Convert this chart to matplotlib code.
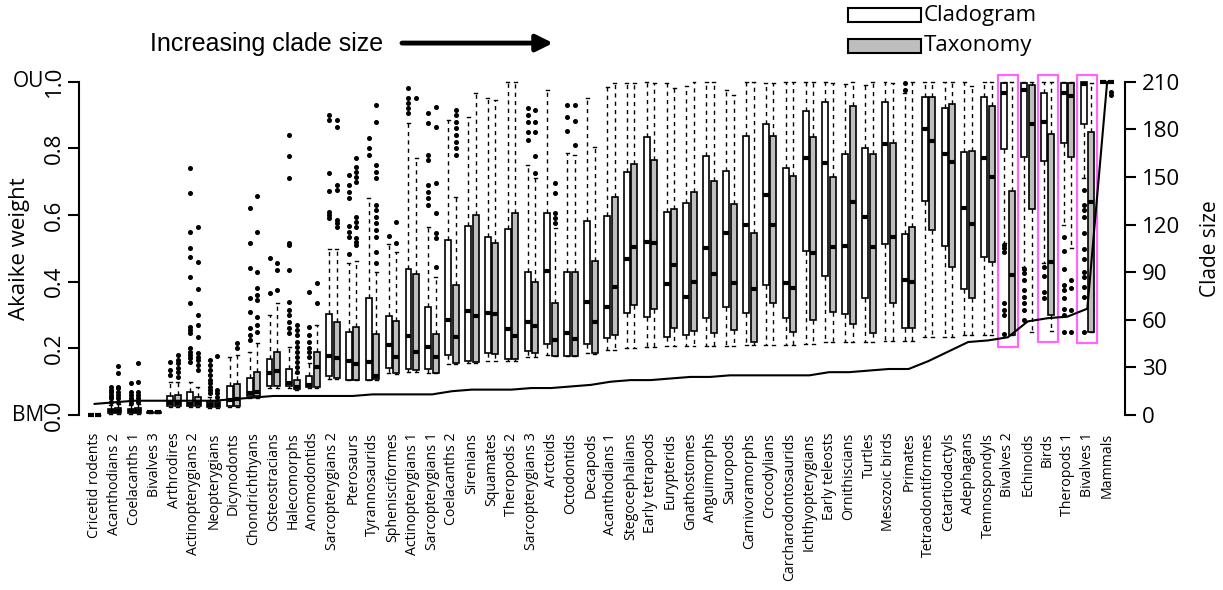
import matplotlib
matplotlib.use("Agg")
import matplotlib.pyplot as plt
from matplotlib.patches import Rectangle
from matplotlib.transforms import blended_transform_factory

# ============================================================
# CONFIG
# ============================================================

plt.rcParams["font.family"] = ["Open Sans", "DejaVu Sans"]

FIGSIZE = (12.23, 5.90)
DPI = 100

WHITE = "white"
GRAY = "#bebebe"
PINK = "#ff66ff"

# ============================================================
# DATA
# ============================================================

CLADES = [
    "Cricetid rodents", "Acanthodians 2", "Coelacanths 1", "Bivalves 3",
    "Arthrodires", "Actinopterygians 2", "Neopterygians", "Dicynodonts",
    "Chondrichthyans", "Osteostracians", "Halecomorphs", "Anomodontids",
    "Sarcopterygians 2", "Pterosaurs", "Tyrannosaurids", "Sphenisciformes",
    "Actinopterygians 1", "Sarcopterygians 1", "Coelacanths 2", "Sirenians",
    "Squamates", "Theropods 2", "Sarcopterygians 3", "Arctoids",
    "Octodontids", "Decapods", "Acanthodians 1", "Stegocephalians",
    "Early tetrapods", "Eurypterids", "Gnathostomes", "Anguimorphs",
    "Sauropods", "Carnivoramorphs", "Crocodylians", "Carcharodontosaurids",
    "Ichthyopterygians", "Early teleosts", "Ornithiscians", "Turtles",
    "Mesozoic birds", "Primates", "Tetraodontiformes", "Cetartiodactyls",
    "Adephagans", "Temnospondyls", "Bivalves 2", "Echinoids",
    "Birds", "Theropods 1", "Bivalves 1", "Mammals",
]

CLADE_SIZE = [
    7, 8, 9, 9, 9, 9, 9, 10, 11, 12,
    12, 12, 12, 12, 13, 13, 13, 13, 15, 16,
    16, 16, 17, 17, 18, 19, 21, 22, 22, 23,
    24, 24, 25, 25, 25, 25, 25, 27, 27, 28,
    29, 29, 34, 40, 46, 47, 49, 59, 61, 62,
    67, 210,
]

# Cladogram (white boxes)
CLADO_LO = [
    0, 0.004, 0.004, 0.006, 0.025, 0.025, 0.02, 0.025, 0.05, 0.082,
    0.082, 0.08, 0.107, 0.105, 0.105, 0.125, 0.13, 0.127, 0.153, 0.157,
    0.163, 0.163, 0.173, 0.18, 0.177, 0.185, 0.195, 0.2, 0.203, 0.207,
    0.207, 0.207, 0.207, 0.21, 0.21, 0.21, 0.213, 0.22, 0.22, 0.22,
    0.223, 0.223, 0.235, 0.235, 0.24, 0.24, 0.515, 0.445, 0.455, 0.57,
    0.712, 1.0,
]
CLADO_Q1 = [
    0, 0.007, 0.007, 0.007, 0.028, 0.028, 0.023, 0.028, 0.057, 0.087,
    0.087, 0.084, 0.117, 0.105, 0.105, 0.142, 0.137, 0.137, 0.18, 0.163,
    0.185, 0.167, 0.192, 0.213, 0.177, 0.213, 0.23, 0.305, 0.295, 0.235,
    0.24, 0.29, 0.323, 0.307, 0.39, 0.29, 0.492, 0.417, 0.302, 0.35,
    0.513, 0.26, 0.643, 0.507, 0.377, 0.473, 0.797, 0.773, 0.762, 0.817,
    0.873, 1.0,
]
CLADO_MED = [
    0, 0.012, 0.011, 0.008, 0.035, 0.034, 0.03, 0.045, 0.065, 0.127,
    0.095, 0.09, 0.178, 0.163, 0.158, 0.21, 0.237, 0.205, 0.285, 0.313,
    0.307, 0.257, 0.28, 0.432, 0.245, 0.34, 0.325, 0.467, 0.52, 0.393,
    0.355, 0.502, 0.547, 0.57, 0.66, 0.397, 0.77, 0.755, 0.507, 0.595,
    0.812, 0.405, 0.857, 0.782, 0.622, 0.77, 0.967, 0.975, 0.88, 0.967,
    0.993, 1.0,
]
CLADO_Q3 = [
    0, 0.018, 0.018, 0.009, 0.058, 0.07, 0.04, 0.087, 0.11, 0.168,
    0.138, 0.117, 0.302, 0.25, 0.35, 0.297, 0.437, 0.323, 0.525, 0.567,
    0.535, 0.557, 0.428, 0.607, 0.43, 0.583, 0.597, 0.73, 0.833, 0.61,
    0.637, 0.777, 0.733, 0.837, 0.873, 0.742, 0.912, 0.938, 0.783, 0.8,
    0.938, 0.542, 0.953, 0.92, 0.79, 0.955, 0.997, 0.997, 0.967, 0.997,
    1.0, 1.0,
]
CLADO_HI = [
    0, 0.03, 0.03, 0.01, 0.098, 0.1, 0.055, 0.175, 0.19, 0.3,
    0.205, 0.155, 0.498, 0.455, 0.65, 0.512, 0.875, 0.565, 0.885, 0.895,
    0.95, 1.0, 0.75, 0.975, 0.785, 0.95, 0.985, 0.995, 1.0, 0.995,
    0.987, 1.0, 0.975, 1.0, 0.995, 1.0, 1.0, 1.0, 0.993, 0.99,
    1.0, 0.965, 1.0, 1.0, 1.0, 1.0, 1.0, 1.0, 1.0, 1.0,
    1.0, 1.0,
]

# Taxonomy (gray boxes)
TAXO_LO = [
    0, 0.004, 0.004, 0.006, 0.025, 0.025, 0.02, 0.025, 0.05, 0.082,
    0.075, 0.08, 0.107, 0.105, 0.105, 0.122, 0.13, 0.125, 0.153, 0.157,
    0.163, 0.163, 0.173, 0.177, 0.177, 0.183, 0.195, 0.2, 0.203, 0.207,
    0.207, 0.207, 0.207, 0.21, 0.21, 0.21, 0.213, 0.22, 0.22, 0.22,
    0.223, 0.223, 0.235, 0.235, 0.24, 0.24, 0.24, 0.25, 0.253, 0.5,
    0.25, 1.0,
]
TAXO_Q1 = [
    0, 0.007, 0.007, 0.007, 0.028, 0.028, 0.023, 0.028, 0.058, 0.087,
    0.078, 0.085, 0.11, 0.105, 0.107, 0.127, 0.135, 0.125, 0.157, 0.16,
    0.183, 0.167, 0.185, 0.177, 0.177, 0.185, 0.24, 0.33, 0.317, 0.26,
    0.253, 0.247, 0.255, 0.22, 0.337, 0.25, 0.285, 0.308, 0.273, 0.245,
    0.335, 0.26, 0.555, 0.443, 0.35, 0.46, 0.24, 0.617, 0.3, 0.774,
    0.25, 1.0,
]
TAXO_MED = [
    0, 0.012, 0.012, 0.008, 0.035, 0.037, 0.03, 0.048, 0.07, 0.132,
    0.085, 0.143, 0.17, 0.153, 0.116, 0.175, 0.19, 0.173, 0.235, 0.297,
    0.302, 0.237, 0.268, 0.225, 0.227, 0.28, 0.383, 0.503, 0.515, 0.45,
    0.4, 0.423, 0.395, 0.378, 0.57, 0.38, 0.485, 0.505, 0.64, 0.503,
    0.535, 0.4, 0.822, 0.76, 0.573, 0.715, 0.42, 0.873, 0.458, 0.957,
    0.64, 1.0,
]
TAXO_Q3 = [
    0, 0.02, 0.02, 0.009, 0.06, 0.055, 0.038, 0.093, 0.13, 0.19,
    0.104, 0.188, 0.28, 0.265, 0.243, 0.283, 0.422, 0.243, 0.39, 0.6,
    0.517, 0.605, 0.398, 0.337, 0.428, 0.463, 0.655, 0.752, 0.765, 0.617,
    0.67, 0.703, 0.633, 0.545, 0.837, 0.717, 0.833, 0.715, 0.927, 0.783,
    0.815, 0.565, 0.953, 0.933, 0.792, 0.927, 0.673, 0.99, 0.842, 0.997,
    0.85, 1.0,
]
TAXO_HI = [
    0, 0.032, 0.032, 0.01, 0.098, 0.085, 0.045, 0.18, 0.215, 0.335,
    0.125, 0.27, 0.498, 0.463, 0.43, 0.49, 0.77, 0.413, 0.655, 0.965,
    0.945, 1.0, 0.71, 0.56, 0.78, 0.803, 0.995, 0.995, 0.995, 0.98,
    1.0, 1.0, 0.96, 1.0, 0.995, 1.0, 1.0, 0.997, 1.0, 1.0,
    0.997, 1.0, 1.0, 1.0, 0.987, 1.0, 1.0, 1.0, 1.0, 1.0,
    0.995, 1.0,
]

# outliers, keyed by clade index
CLADO_FLIERS = {
    1: [0.04, 0.05, 0.055, 0.06, 0.07, 0.075, 0.085],
    2: [0.035, 0.045, 0.05, 0.06, 0.068, 0.095],
    4: [0.12, 0.135, 0.16],
    5: [0.16, 0.17, 0.18, 0.19, 0.2, 0.245, 0.255, 0.265, 0.335, 0.415,
        0.475, 0.5, 0.55, 0.665, 0.74],
    6: [0.065, 0.075, 0.085, 0.095, 0.105, 0.12, 0.135, 0.15, 0.165],
    8: [0.225, 0.24, 0.26, 0.31, 0.35, 0.44, 0.515, 0.62],
    9: [0.365, 0.47],
    10: [0.245, 0.26, 0.28, 0.3, 0.315, 0.34, 0.435, 0.51, 0.515, 0.71,
         0.777, 0.84],
    11: [0.175, 0.19, 0.2, 0.22, 0.24, 0.265, 0.37],
    12: [0.59, 0.6, 0.61, 0.673, 0.725, 0.885, 0.9],
    13: [0.482, 0.535, 0.55, 0.567, 0.65, 0.67, 0.69, 0.72],
    14: [0.78, 0.8, 0.83],
    15: [0.537],
    16: [0.905, 0.92, 0.935, 0.95, 0.98],
    17: [0.63, 0.65, 0.67, 0.69, 0.765, 0.78, 0.875, 0.905],
    22: [0.825, 0.85, 0.88, 0.9, 0.92],
    24: [0.852, 0.895, 0.93],
    41: [0.975, 0.995],
    46: [0.243, 0.3, 0.315, 0.335, 0.49, 0.5, 0.51],
    47: [0.285, 0.315, 0.335, 0.355, 0.375, 0.405, 0.425, 0.437],
    48: [0.35, 0.37, 0.417, 0.445],
    49: [0.25, 0.3, 0.317, 0.35, 0.375, 0.39, 0.437, 0.493, 0.535],
    50: [0.25, 0.355, 0.385, 0.415, 0.43, 0.467, 0.497, 0.547, 0.595,
         0.615, 0.63, 0.675],
}
TAXO_FLIERS = {
    1: [0.04, 0.05, 0.06, 0.07, 0.08, 0.085, 0.125, 0.148],
    2: [0.04, 0.05, 0.06, 0.07, 0.1, 0.155],
    4: [0.115, 0.13, 0.14, 0.155, 0.165, 0.18],
    5: [0.135, 0.15, 0.165, 0.175, 0.185, 0.233, 0.27, 0.3, 0.377, 0.46,
        0.565],
    6: [0.055, 0.065, 0.075, 0.178],
    7: [0.2, 0.215],
    8: [0.25, 0.27, 0.295, 0.345, 0.36, 0.38, 0.43, 0.55, 0.657],
    9: [0.375, 0.435, 0.457],
    10: [0.13, 0.145, 0.16, 0.175, 0.19, 0.205, 0.22, 0.24, 0.255, 0.27],
    11: [0.337, 0.397],
    12: [0.565, 0.575, 0.585, 0.675, 0.69, 0.865, 0.885],
    13: [0.51, 0.52, 0.53, 0.565, 0.58, 0.595, 0.7, 0.715, 0.73, 0.745,
         0.77],
    14: [0.457, 0.49, 0.535, 0.555, 0.575, 0.595, 0.615, 0.63, 0.71, 0.73,
         0.75, 0.88, 0.93],
    15: [0.515, 0.58],
    16: [0.95],
    17: [0.445, 0.53, 0.547, 0.605, 0.695, 0.865, 0.925],
    18: [0.78, 0.8, 0.82, 0.84, 0.86, 0.88, 0.9, 0.915],
    22: [0.725, 0.777, 0.85, 0.88, 0.915],
    23: [0.577, 0.59, 0.605, 0.667, 0.695],
    24: [0.81, 0.882, 0.93],
    49: [0.25, 0.315, 0.38, 0.405],
    51: [0.96, 0.97],
}

# clades outlined in pink
HIGHLIGHT = ["Bivalves 2", "Birds", "Bivalves 1"]

# ============================================================
# HELPERS
# ============================================================

def make_stats(lo, q1, med, q3, hi, fliers):
    stats = []
    for i in range(len(lo)):
        stats.append({
            "whislo": lo[i], "q1": q1[i], "med": med[i],
            "q3": q3[i], "whishi": hi[i], "fliers": fliers.get(i, []),
        })
    return stats


def draw_boxes(ax, stats, positions, face):
    ax.bxp(
        stats,
        positions=positions,
        widths=0.3,
        capwidths=0.15,
        patch_artist=True,
        showfliers=True,
        boxprops=dict(facecolor=face, edgecolor="black", linewidth=1.2),
        medianprops=dict(color="black", linewidth=3, solid_capstyle="butt"),
        whiskerprops=dict(color="black", linewidth=1.0, linestyle=(0, (3, 3))),
        capprops=dict(color="black", linewidth=1.0),
        flierprops=dict(marker="o", markersize=2.6, markerfacecolor="black",
                        markeredgecolor="black", linestyle="none"),
        manage_ticks=False,
    )

# ============================================================
# FIGURE
# ============================================================

fig = plt.figure(figsize=FIGSIZE, dpi=DPI)
ax = fig.add_axes([0.0642, 0.274, 0.8557, 0.610])

idx = list(range(len(CLADES)))
pos_clado = [i - 0.19 for i in idx]
pos_taxo = [i + 0.19 for i in idx]

draw_boxes(ax, make_stats(CLADO_LO, CLADO_Q1, CLADO_MED, CLADO_Q3, CLADO_HI,
                          CLADO_FLIERS), pos_clado, WHITE)
draw_boxes(ax, make_stats(TAXO_LO, TAXO_Q1, TAXO_MED, TAXO_Q3, TAXO_HI,
                          TAXO_FLIERS), pos_taxo, GRAY)

# pink outlines
for name in HIGHLIGHT:
    i = CLADES.index(name)
    low = min([CLADO_LO[i], TAXO_LO[i]] + CLADO_FLIERS.get(i, [])
              + TAXO_FLIERS.get(i, []))
    ax.add_patch(Rectangle((i - 0.5, low - 0.035), 1.0, 1.02 - (low - 0.035),
                           fill=False, edgecolor=PINK, linewidth=1.6,
                           zorder=5))

ax.set_xlim(-0.81, 51.9)
ax.set_ylim(-0.04, 1.04)

for s in ["top", "right", "bottom"]:
    ax.spines[s].set_visible(False)
ax.spines["left"].set_bounds(0, 1)
ax.spines["left"].set_linewidth(1.5)

ax.set_yticks([0, 0.2, 0.4, 0.6, 0.8, 1.0])
ax.set_yticklabels(["0.0", "0.2", "0.4", "0.6", "0.8", "1.0"],
                   rotation=90, va="center")
ax.tick_params(axis="y", length=8, width=1.5, labelsize=16, pad=2)

ax.set_xticks(idx)
ax.set_xticklabels(CLADES, rotation=90, fontsize=10.2)
ax.tick_params(axis="x", length=0, pad=3)

ax.set_ylabel("Akaike weight", fontsize=16)
ax.yaxis.set_label_coords(-0.046, 0.5)

trans = blended_transform_factory(ax.transAxes, ax.transData)
ax.text(-0.033, 1.0, "OU", transform=trans, ha="right", va="center",
        fontsize=15)
ax.text(-0.033, 0.0, "BM", transform=trans, ha="right", va="center",
        fontsize=15)

# clade size on right axis
ax2 = ax.twinx()
ax2.plot(idx, CLADE_SIZE, color="black", linewidth=1.5)
ax2.set_ylim(-0.04 * 210, 1.04 * 210)
for s in ["top", "left", "bottom"]:
    ax2.spines[s].set_visible(False)
ax2.spines["right"].set_bounds(0, 210)
ax2.spines["right"].set_linewidth(1.5)
ax2.set_yticks(range(0, 211, 30))
ax2.tick_params(axis="y", length=8, width=1.5, labelsize=16, pad=4)
ax2.set_ylabel("Clade size", fontsize=15)
ax2.yaxis.set_label_coords(1.072, 0.5)

# arrow + caption
fig.text(150 / 1223, 0.925, "Increasing clade size", ha="left", va="center",
         fontsize=18, family=["Liberation Sans Narrow", "Liberation Sans"])
ax.annotate("", xy=(553 / 1223, 0.927), xytext=(402 / 1223, 0.927),
            xycoords="figure fraction", textcoords="figure fraction",
            arrowprops=dict(arrowstyle="-|>", color="black", lw=3.5,
                            mutation_scale=25, shrinkA=0, shrinkB=0))

# legend
LEGEND = [("Cladogram", WHITE, 15), ("Taxonomy", GRAY, 46)]
for label, face, ypix in LEGEND:
    fig.add_artist(Rectangle((848 / 1223, (590 - ypix - 7) / 590),
                             73 / 1223, 14 / 590, transform=fig.transFigure,
                             facecolor=face, edgecolor="black", linewidth=1.5))
    fig.text(924 / 1223, (590 - ypix) / 590, label, ha="left", va="center",
             fontsize=16)

fig.savefig("out.png", dpi=DPI)
